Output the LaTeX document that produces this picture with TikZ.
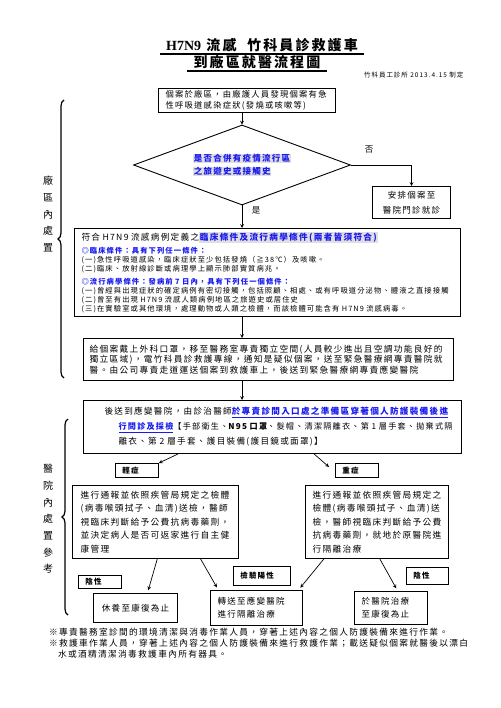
\documentclass[tikz,border=0pt]{standalone}
\usepackage{fontspec}
\usepackage{graphicx}
\setmainfont{Noto Sans CJK TC}[LetterSpace=15]
\newfontfamily\titlelat{Liberation Serif}
\usepackage{tikz}
\usetikzlibrary{shapes.geometric, arrows, calc, decorations.pathreplacing}
\definecolor{linkblue}{RGB}{25,25,240}
\newcommand\fsz[2]{\fontsize{#1}{#2}\selectfont}
\newcommand\hilite[1]{{\setlength\fboxsep{0.7pt}\colorbox{gray!25}{#1}}}
\newcommand\fitline[2]{\resizebox{#1}{!}{#2}}

\begin{document}
\begin{tikzpicture}[x=1pt, y=-1pt, >=stealth,
    box/.style={draw, line width=1.1pt, anchor=north west, inner xsep=7pt, inner ysep=0pt, align=left},
    tag/.style={box, line width=0.9pt, font=\fsz{7.5}{9}\bfseries},
    link/.style={->, line width=0.7pt},
    side/.style={align=center, font=\fsz{10}{16.7}},
    curly/.style={decorate, decoration={brace, amplitude=6pt}, line width=1.2pt}]
    \useasboundingbox (0,0) rectangle (500,708);

    \node[font=\fsz{14}{16}\bfseries, inner xsep=6pt, inner ysep=2pt] (title) at (262,45) {{\titlelat H7N9} 流感\ \ 竹科員診救護車};
    \draw[line width=1.2pt] (title.south west) -- (title.south east);
    \node[font=\fsz{14}{16}\bfseries, inner xsep=6pt, inner ysep=2pt] (subtitle) at (257,62) {到廠區就醫流程圖};
    \draw[line width=1.2pt] (subtitle.south west) -- (subtitle.south east);
    \node[anchor=east, font=\fsz{6.5}{8}] (dated) at (467,75) {竹科員工診所 2013.4.15 制定};

    \node[box, minimum width=177, minimum height=24, text width=163, font=\fsz{8.3}{11}] (found) at (158,88) {個案於廠區，由廠護人員發現個案有急\\性呼吸道感染症狀(發燒或咳嗽等)};
    \node[diamond, draw, line width=0.9pt, minimum width=217, minimum height=80, inner sep=0pt, aspect=2.7, align=left, text=linkblue, font=\fsz{8.5}{13}\bfseries] (query) at (242,165) {\hilite{是否合併有疫情流行區}\\\hilite{之旅遊史或接觸史}};
    \node[font=\fsz{8.5}{10}] (no) at (369,150) {否};
    \node[font=\fsz{8.5}{10}] (yes) at (256,210) {是};
    \node[box, align=center, minimum width=78, minimum height=32, text width=64, font=\fsz{8.5}{15}] (clinic) at (372,186) {安排個案至\\醫院門診就診};

    \node[box, minimum width=386, minimum height=88, text width=372, font=\fsz{7.3}{9}] (define) at (74,228) {\fitline{296pt}{\fsz{8.5}{9}符合 H7N9 流感病例定義之\hilite{\textcolor{linkblue}{\bfseries 臨床條件及流行病學條件(兩者皆須符合)}}}\\[4pt]
        {\color{linkblue}\bfseries ◎臨床條件：具有下列任一條件：}\\
        (一)急性呼吸道感染，臨床症狀至少包括發燒（≧38℃）及咳嗽。\\
        (二)臨床、放射線診斷或病理學上顯示肺部實質病兆。\\[4pt]
        {\color{linkblue}\bfseries ◎流行病學條件：發病前 7 日內，具有下列任一個條件：}\\
        \mbox{(一)曾經與出現症狀的確定病例有密切接觸，包括照顧、相處、或有呼吸道分泌物、體液之直接接觸}\\
        (二)曾至有出現 H7N9 流感人類病例地區之旅遊史或居住史\\
        (三)在實驗室或其他環境，處理動物或人類之檢體，而該檢體可能含有 H7N9 流感病毒。};

    \node[box, inner xsep=6pt, minimum width=370, minimum height=42, text width=358, font=\fsz{8.7}{10.5}] (isolate) at (83,338) {給個案戴上外科口罩，移至醫務室專責獨立空間(人員較少進出且空調功能良好的\\獨立區域)，電竹科員診救護專線，通知是疑似個案，送至緊急醫療網專責醫院就\\醫。由公司專責走道運送個案到救護車上，後送到緊急醫療網專責應變醫院};

    \node[box, minimum width=378, minimum height=53, text width=364, font=\fsz{8.6}{15}] (hospital) at (83,400) {\hspace*{14pt}後送到應變醫院，由診治醫師{\color{linkblue}\bfseries\underline{於專責診間入口處之準備區穿著個人防護裝備後進}}\\
        \hspace*{28pt}\fitline{334pt}{{\color{linkblue}\bfseries\underline{行問診及採檢}}【手部衛生、{\bfseries N95 口罩}、髮帽、清潔隔離衣、第 1 層手套、拋棄式隔}\\
        \hspace*{28pt}離衣、第 2 層手套、護目裝備(護目鏡或面罩)】};

    \draw[link] (found.south -| query.north) -- (query.north);
    \draw[link] (query.east) -| (clinic.north);
    \draw[link] (query.south) -- (query.south |- define.north);
    \draw[link] (define.south -| query.south) -- (isolate.north -| query.south);
    \draw[link] (isolate.south -| query.south) -- (hospital.north -| query.south);

    \node[tag, minimum width=43, minimum height=14, text width=29] (mild) at (115,463) {輕症};
    \node[tag, minimum width=43, minimum height=14, text width=29] (severe) at (335,463) {重症};
    \draw[link] ($(hospital.south west)!0.25!(hospital.south east)$) -- (mild.north east);
    \draw[link] ($(hospital.south west)!0.61!(hospital.south east)$) -- ($(severe.north west)+(-6,4)$);

    \node[box, inner xsep=8pt, minimum width=166, minimum height=73, text width=150, font=\fsz{8.7}{13.4}] (mildcare) at (72,485) {進行通報並依照疾管局規定之檢體\\(病毒喉頭拭子、血清)送檢，醫師\\視臨床判斷給予公費抗病毒藥劑，\\並決定病人是否可返家進行自主健\\康管理};
    \node[box, minimum width=143, minimum height=73, text width=129, font=\fsz{8.7}{13.4}] (severecare) at (305,485) {進行通報並依照疾管局規定之\\檢體(病毒喉頭拭子、血清)送\\檢，醫師視臨床判斷給予公費\\抗病毒藥劑，就地於原醫院進\\行隔離治療};

    \node[tag, minimum width=43, minimum height=13, text width=29] (negleft) at (78,575) {陰性};
    \node[box, align=center, minimum width=84, minimum height=29, text width=70, font=\fsz{8.5}{13}] (rest) at (93,593) {休養至康復為止};
    \node[tag, minimum width=57, minimum height=19, text width=43] (positive) at (233,566) {檢驗陽性};
    \node[box, minimum width=92, minimum height=35, text width=78, font=\fsz{8.5}{13}] (transfer) at (210,590) {轉送至應變醫院\\進行隔離治療};
    \node[tag, minimum width=42, minimum height=17, text width=28] (negright) at (406,567) {陰性};
    \node[box, minimum width=73, minimum height=33, text width=59, font=\fsz{8.5}{13}] (treat) at (354,591) {於醫院治療\\至康復為止};

    \draw[link, shorten >=3pt] ($(mildcare.south west)!0.51!(mildcare.south east)$) -- ($(rest.north west)!0.64!(rest.north east)$);
    \draw[link, shorten >=3pt] ($(mildcare.south west)!0.77!(mildcare.south east)$) -- ($(transfer.north west)!0.09!(transfer.north east)$);
    \draw[link, shorten >=3pt] ($(severecare.south west)!0.13!(severecare.south east)$) -- ($(transfer.north west)!0.95!(transfer.north east)$);
    \draw[link, shorten >=3pt] ($(severecare.south west)!0.52!(severecare.south east)$) -- ($(treat.north west)!0.59!(treat.north east)$);

    \node[side] (plantlbl) at (48,214) {廠\\區\\內\\處\\置};
    \node[side] (hosplbl) at (48,519) {醫\\院\\內\\處\\置\\參\\考};
    \draw[curly] (64,378) -- (64,100);
    \draw[curly] (68,615) -- (68,419);

    \node[anchor=north west, align=left, inner sep=0pt, font=\fsz{8.7}{11}] (notes) at (49,628) {※專責醫務室診間的環境清潔與消毒作業人員，穿著上述內容之個人防護裝備來進行作業。\\※救護車作業人員，穿著上述內容之個人防護裝備來進行救護作業；載送疑似個案就醫後以漂白\\\hspace*{9pt}水或酒精清潔消毒救護車內所有器具。};
\end{tikzpicture}
\end{document}
